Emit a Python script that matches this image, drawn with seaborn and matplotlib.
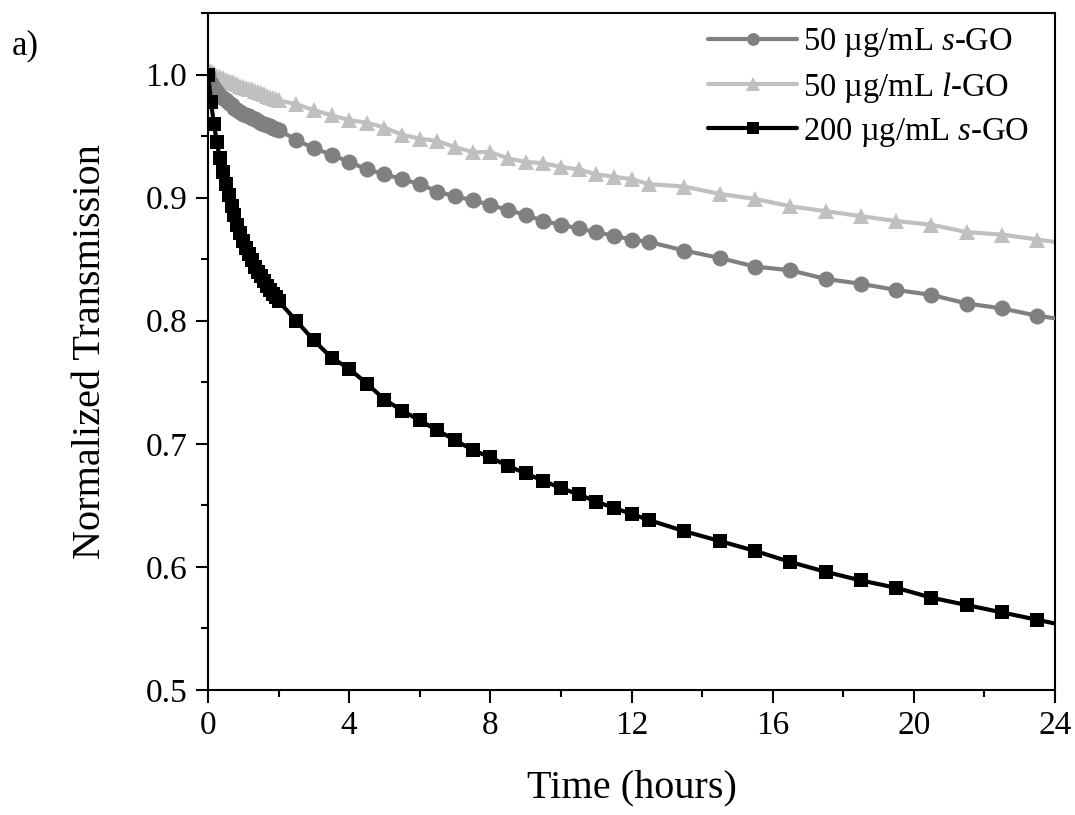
import numpy as np
import pandas as pd
import matplotlib
matplotlib.use("Agg")
import matplotlib.pyplot as plt
from matplotlib.ticker import MultipleLocator
import seaborn as sns

# Time axis (hours): 5-minute sampling for the first 2 h, then 0.5 h, then 1 h
time_early = [0, 1/12, 2/12, 3/12, 4/12, 5/12, 6/12, 7/12, 8/12, 9/12, 10/12, 11/12, 1.0,
              13/12, 14/12, 15/12, 16/12, 17/12, 18/12, 19/12, 20/12, 21/12, 22/12, 23/12, 2.0]
time_mid = [2.5, 3.0, 3.5, 4.0, 4.5, 5.0, 5.5, 6.0, 6.5, 7.0, 7.5, 8.0, 8.5, 9.0, 9.5,
            10.0, 10.5, 11.0, 11.5, 12.0, 12.5]
time_late = [13.5, 14.5, 15.5, 16.5, 17.5, 18.5, 19.5, 20.5, 21.5, 22.5, 23.5, 24.5]
time_h = time_early + time_mid + time_late

# 50 ug/mL s-GO
s_go_50 = [1.000, 0.993, 0.989, 0.986, 0.983, 0.981, 0.979, 0.977, 0.975, 0.973, 0.971, 0.970, 0.968,
           0.967, 0.966, 0.965, 0.964, 0.962, 0.961, 0.960, 0.959, 0.958, 0.957, 0.956, 0.955,
           0.947, 0.940, 0.935, 0.929, 0.923, 0.919, 0.915, 0.911, 0.905, 0.901, 0.898, 0.894,
           0.890, 0.886, 0.881, 0.878, 0.875, 0.872, 0.869, 0.866, 0.864,
           0.857, 0.851, 0.844, 0.841, 0.834, 0.830, 0.825, 0.821, 0.814, 0.810, 0.804, 0.800]

# 50 ug/mL l-GO
l_go_50 = [1.004, 1.003, 1.001, 0.999, 0.998, 0.997, 0.996, 0.995, 0.994, 0.993, 0.992, 0.991, 0.990,
           0.989, 0.988, 0.988, 0.987, 0.986, 0.985, 0.984, 0.983, 0.982, 0.981, 0.980, 0.979,
           0.976, 0.971, 0.967, 0.963, 0.961, 0.957, 0.951, 0.948, 0.946, 0.941, 0.937, 0.937,
           0.932, 0.929, 0.928, 0.925, 0.923, 0.919, 0.917, 0.915, 0.911,
           0.909, 0.903, 0.899, 0.893, 0.889, 0.885, 0.881, 0.878, 0.872, 0.870, 0.866, 0.862]

# 200 ug/mL s-GO
s_go_200 = [1.000, 0.978, 0.960, 0.945, 0.932, 0.921, 0.911, 0.902, 0.893, 0.886, 0.878, 0.871, 0.865,
            0.859, 0.854, 0.849, 0.844, 0.840, 0.836, 0.832, 0.828, 0.825, 0.822, 0.819, 0.816,
            0.800, 0.784, 0.770, 0.761, 0.749, 0.736, 0.727, 0.719, 0.711, 0.703, 0.695, 0.689,
            0.682, 0.676, 0.670, 0.664, 0.659, 0.653, 0.648, 0.643, 0.638,
            0.629, 0.621, 0.613, 0.604, 0.596, 0.589, 0.583, 0.575, 0.569, 0.563, 0.557, 0.551]

labels = ["50 \u00b5g/mL $\\it{s}$-GO", "50 \u00b5g/mL $\\it{l}$-GO", "200 \u00b5g/mL $\\it{s}$-GO"]

sns.set_theme(style="ticks")
plt.rcParams["font.family"] = ["Liberation Serif", "DejaVu Serif"]
plt.rcParams["mathtext.fontset"] = "custom"
plt.rcParams["mathtext.it"] = "Liberation Serif:italic"
plt.rcParams["mathtext.rm"] = "Liberation Serif"
plt.rcParams["text.color"] = "black"
plt.rcParams["axes.labelcolor"] = "black"
plt.rcParams["xtick.color"] = "black"
plt.rcParams["ytick.color"] = "black"

fig = plt.figure(figsize=(10.75, 8.15), dpi=100)
ax = fig.add_axes([0.1935, 0.1534, 0.7879, 0.8306])

sns.lineplot(x=time_h, y=l_go_50, ax=ax, color="#c0c0c0", marker="^", markersize=12,
             markeredgewidth=0, linewidth=3, label=labels[1], zorder=2)
sns.lineplot(x=time_h, y=s_go_50, ax=ax, color="#808080", marker="o", markersize=11.5,
             markeredgewidth=0, linewidth=3, label=labels[0], zorder=3)
sns.lineplot(x=time_h, y=s_go_200, ax=ax, color="#000000", marker="s", markersize=10.5,
             markeredgewidth=0, linewidth=3, label=labels[2], zorder=4)

ax.set_xlim(0, 24)
ax.set_ylim(0.5, 1.05)
ax.xaxis.set_major_locator(MultipleLocator(4))
ax.xaxis.set_minor_locator(MultipleLocator(2))
ax.yaxis.set_minor_locator(MultipleLocator(0.05))
ax.set_yticks([0.5, 0.6, 0.7, 0.8, 0.9, 1.0])
ax.tick_params(which="major", direction="out", length=9, width=1.5, labelsize=24,
               top=False, right=False, pad=6)
ax.tick_params(which="minor", direction="out", length=5, width=1.5, top=False, right=False)
for sp in ax.spines.values():
    sp.set_linewidth(1.5)
    sp.set_color("black")

ax.set_xlabel("Time (hours)", fontsize=29, labelpad=20)
ax.set_ylabel("Normalized Transmission", fontsize=29, labelpad=26)

handles, labs = ax.get_legend_handles_labels()
order = [1, 0, 2]
ax.legend([handles[i] for i in order], [labs[i] for i in order], loc="upper right",
          frameon=False, fontsize=23.5, handlelength=2.7, handletextpad=0.2,
          labelspacing=0.33, borderaxespad=0.0, markerscale=0.8,
          bbox_to_anchor=(0.985, 1.0))

fig.text(0.011, 0.933, "a)", fontsize=25)

fig.savefig("out.png", dpi=100)
